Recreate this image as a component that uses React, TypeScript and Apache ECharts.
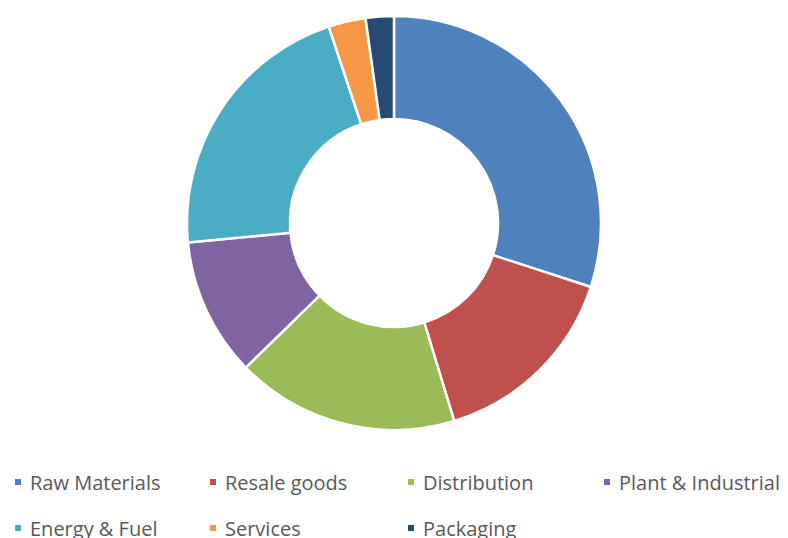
import React, { useEffect, useRef } from "react";
import * as echarts from "echarts";

const categories = ["Raw Materials", "Resale goods", "Distribution", "Plant & Industrial", "Energy & Fuel", "Services", "Packaging"];
const values = [30.0, 15.3, 17.4, 10.8, 21.4, 2.9, 2.2];
const colors = ["#4F81BD", "#C0504D", "#9BBB59", "#8064A2", "#4BACC6", "#F79646", "#264A74"];

const legendSlots = [
  { name: "Raw Materials", left: 5, top: 464 },
  { name: "Resale goods", left: 200, top: 464 },
  { name: "Distribution", left: 398, top: 464 },
  { name: "Plant & Industrial", left: 594, top: 464 },
  { name: "Energy & Fuel", left: 5, top: 510 },
  { name: "Services", left: 200, top: 510 },
  { name: "Packaging", left: 398, top: 510 },
];

export default function App() {
  const ref = useRef<HTMLDivElement>(null);
  useEffect(() => {
    if (!ref.current) return;
    const chart = echarts.init(ref.current, undefined, { renderer: "svg" });
    chart.setOption({
      animation: false,
      color: colors,
      legend: legendSlots.map((s) => ({
        left: s.left,
        top: s.top,
        padding: 0,
        data: [s.name],
        icon: "rect",
        itemWidth: 8,
        itemHeight: 8,
        selectedMode: false,
        textStyle: {
          color: "#595959",
          fontSize: 20,
          fontFamily: "Open Sans",
          lineHeight: 20,
          padding: [0, 0, 0, 3],
        },
      })),
      series: [
        {
          type: "pie",
          center: [386, 215],
          radius: [104, 207],
          startAngle: 90,
          clockwise: true,
          label: { show: false },
          labelLine: { show: false },
          emphasis: { disabled: true },
          itemStyle: { borderColor: "#ffffff", borderWidth: 2.5 },
          data: categories.map((name, i) => ({ name, value: values[i] })),
        },
      ],
    });
    return () => chart.dispose();
  }, []);
  return <div ref={ref} style={{ width: 780, height: 530, overflow: "visible" }} />;
}
